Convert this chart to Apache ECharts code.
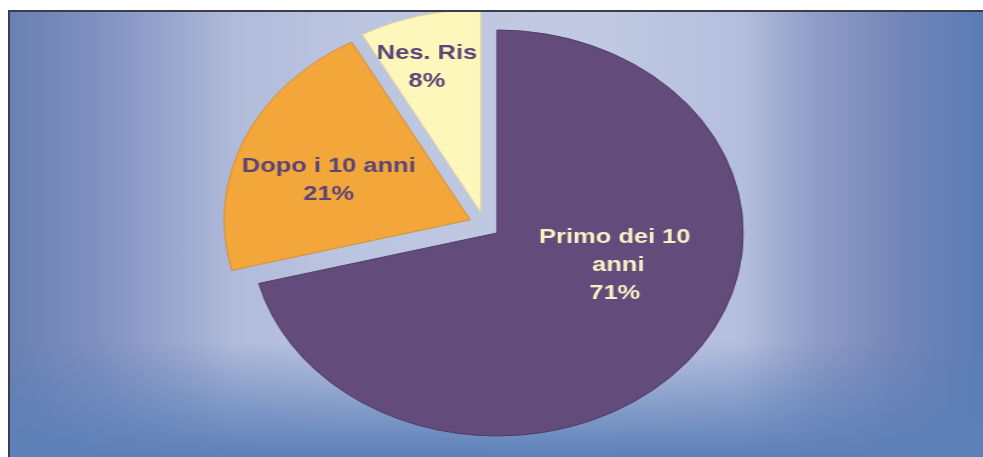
<!DOCTYPE html>
<html>
<head>
<meta charset="utf-8">
<script src="https://cdn.jsdelivr.net/npm/echarts@6/dist/echarts.min.js"></script>
<style>
  html, body { margin: 0; padding: 0; background: #fff; overflow: hidden; }
  /* cornice con sfondo sfumato */
  #frame {
    position: absolute; left: 8px; top: 10px; width: 975px; height: 447px;
    box-sizing: border-box; overflow: hidden;
    border-left: 2px solid #3c3c4a; border-top: 2px solid #3c3c4a;
    background:
      linear-gradient(to bottom, rgba(92,128,184,0) 0%, rgba(92,128,184,0) 74%, rgba(92,128,184,0.6) 89%, rgba(92,128,184,1) 100%),
      linear-gradient(to right, #6a80b3 0%, #8090c0 9%, #9eaad0 18%, #b0bbda 23%, #bcc5e0 35%, #c2cae2 60%, #b4bedd 75%, #8f9cc6 83%, #7586b8 91%, #5a7cb4 100%);
  }
  /* la torta originale e' schiacciata in orizzontale: scaleX */
  #main {
    position: absolute; left: 0; top: 0; width: 802px; height: 445px;
    transform: scaleX(1.212); transform-origin: 0 0;
  }
</style>
</head>
<body>
<div id="frame"><div id="main"></div></div>
<script>
  var categories = ['Primo dei 10 anni', 'Dopo i 10 anni', 'Nes. Ris'];
  var values = [71, 21, 8];

  var colors = ['#634b7b', '#f3a73b', '#fef7bb'];
  var borders = ['#4f3b66', '#d38e33', '#ddd59c'];
  var labelColors = ['#f7f1c6', '#5b4577', '#5b4577'];
  // centro delle etichette (coordinate del grafico, prima dello scaleX)
  var labelPos = [[499, 253], [263, 168], [344, 55]];
  var labelWidth = [130, 200, 120];

  var chart = echarts.init(document.getElementById('main'));

  var total = values.reduce(function (a, b) { return a + b; }, 0);

  var data = categories.map(function (name, i) {
    return {
      name: name,
      value: values[i],
      selected: true,
      itemStyle: { color: colors[i], borderColor: borders[i], borderWidth: 1 }
    };
  });

  var labels = categories.map(function (name, i) {
    return {
      type: 'text',
      x: labelPos[i][0],
      y: labelPos[i][1],
      z: 100,
      style: {
        text: name + '\n' + Math.round(values[i] / total * 100) + '%',
        fill: labelColors[i],
        font: 'bold 21px "Liberation Sans", Arial, sans-serif',
        lineHeight: 28,
        width: labelWidth[i],
        overflow: 'break',
        align: 'center',
        verticalAlign: 'middle'
      }
    };
  });

  var option = {
    animation: false,
    graphic: labels,
    series: [
      {
        type: 'pie',
        center: [391.6, 213],
        radius: 203,
        startAngle: 90,
        clockwise: true,
        selectedMode: 'multiple',
        selectedOffset: 13,
        label: { show: false },
        labelLine: { show: false },
        emphasis: { disabled: true },
        data: data
      }
    ]
  };

  chart.setOption(option);
</script>
</body>
</html>
